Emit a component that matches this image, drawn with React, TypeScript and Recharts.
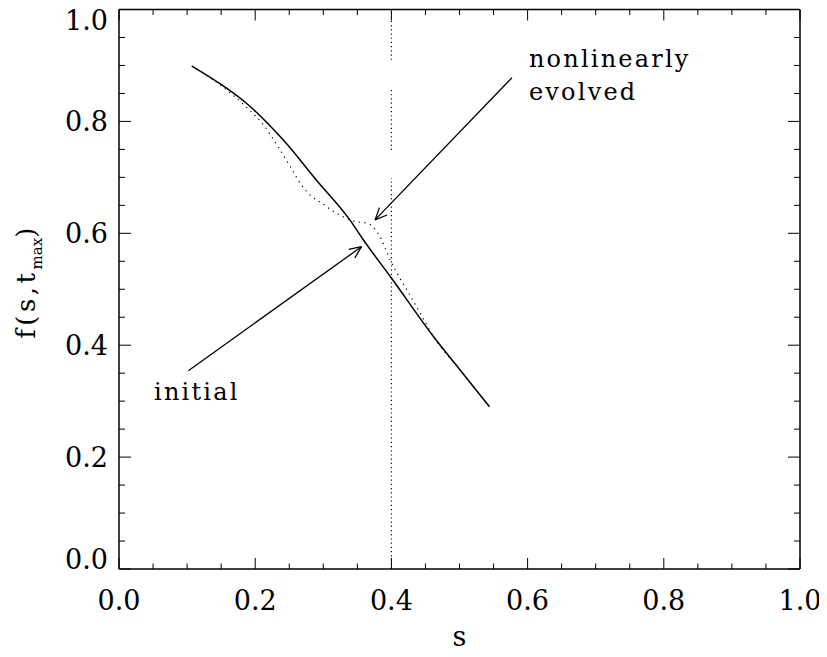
import React from "react";
import { LineChart, Line, XAxis, YAxis, ReferenceLine, ReferenceDot } from "recharts";

// ---- data ----
const initialS = [0.107, 0.15, 0.1875, 0.241, 0.29, 0.339, 0.359, 0.4, 0.462, 0.5, 0.544];
const initialF = [0.899, 0.866, 0.832, 0.767, 0.695, 0.624, 0.588, 0.52, 0.415, 0.357, 0.29];

const evolvedS = [0.107, 0.15, 0.19, 0.21, 0.235, 0.253, 0.268, 0.283, 0.3, 0.315, 0.33, 0.347, 0.364, 0.378, 0.385, 0.392, 0.4, 0.41, 0.425, 0.44, 0.462, 0.5, 0.544];
const evolvedF = [0.899, 0.864, 0.822, 0.797, 0.752, 0.716, 0.686, 0.666, 0.652, 0.639, 0.629, 0.621, 0.618, 0.604, 0.59, 0.57, 0.548, 0.525, 0.494, 0.462, 0.415, 0.357, 0.29];

const axisTicks = [0, 0.05, 0.1, 0.15, 0.2, 0.25, 0.3, 0.35, 0.4, 0.45, 0.5, 0.55, 0.6, 0.65, 0.7, 0.75, 0.8, 0.85, 0.9, 0.95, 1.0];

const markerS = 0.4;
const markerSegments = [[0, 0.699], [0.749, 0.856], [0.91, 1.0]];

const arrowEvolved = [{ x: 0.577, y: 0.878 }, { x: 0.376, y: 0.624 }];
const arrowInitial = [{ x: 0.1018, y: 0.3545 }, { x: 0.356, y: 0.576 }];

const labelEvolved1 = { s: 0.602, f: 0.897, text: "nonlinearly" };
const labelEvolved2 = { s: 0.602, f: 0.838, text: "evolved" };
const labelInitial = { s: 0.0514, f: 0.302, text: "initial" };

const initialData = initialS.map((s, i) => ({ s, f: initialF[i] }));
const evolvedData = evolvedS.map((s, i) => ({ s, f: evolvedF[i] }));

const FONT = "'DejaVu Serif', serif";
const isMajor = (v: number) => Math.abs(v * 5 - Math.round(v * 5)) < 1e-6;

const BottomTick = (props: any) => {
  const { x, y, payload } = props;
  const major = isMajor(payload.value);
  return (
    <g>
      <line x1={x} x2={x} y1={y} y2={y - (major ? 11 : 5.5)} stroke="#000" strokeWidth={1} />
      {major && (
        <text x={x} y={y + 41} textAnchor="middle" fontFamily={FONT} fontSize={27} fill="#000">
          {payload.value.toFixed(1)}
        </text>
      )}
    </g>
  );
};

const TopTick = (props: any) => {
  const { x, y, payload } = props;
  const major = isMajor(payload.value);
  return <line x1={x} x2={x} y1={y} y2={y + (major ? 11 : 5.5)} stroke="#000" strokeWidth={1} />;
};

const LeftTick = (props: any) => {
  const { x, y, payload } = props;
  const v = payload.value;
  const major = isMajor(v);
  // end labels are nudged inside the frame, as in the reference
  const shift = v >= 0.999 ? 10.5 : v <= 0.001 ? -10 : 0;
  return (
    <g>
      <line x1={x} x2={x + (major ? 12 : 6)} y1={y} y2={y} stroke="#000" strokeWidth={1} />
      {major && (
        <text x={x - 11} y={y + 10 + shift} textAnchor="end" fontFamily={FONT} fontSize={27} fill="#000">
          {v.toFixed(1)}
        </text>
      )}
    </g>
  );
};

const RightTick = (props: any) => {
  const { x, y, payload } = props;
  const major = isMajor(payload.value);
  return <line x1={x} x2={x - (major ? 12 : 6)} y1={y} y2={y} stroke="#000" strokeWidth={1} />;
};

const ArrowShape = (props: any) => {
  const { x1, y1, x2, y2 } = props;
  const ang = Math.atan2(y2 - y1, x2 - x1);
  const len = 13;
  const spread = 0.42;
  const ax = x2 - len * Math.cos(ang - spread);
  const ay = y2 - len * Math.sin(ang - spread);
  const bx = x2 - len * Math.cos(ang + spread);
  const by = y2 - len * Math.sin(ang + spread);
  return (
    <g stroke="#000" strokeWidth={1.3} fill="none">
      <line x1={x1} y1={y1} x2={x2} y2={y2} />
      <line x1={x2} y1={y2} x2={ax} y2={ay} />
      <line x1={x2} y1={y2} x2={bx} y2={by} />
    </g>
  );
};

const makeTextShape = (text: string) => (props: any) => (
  <text x={props.cx} y={props.cy} fontFamily={FONT} fontSize={24} letterSpacing={2.2} fill="#000">
    {text}
  </text>
);

const YLabel = (props: any) => {
  const vb = props.viewBox || { x: 0, y: 0, height: 560 };
  const x = vb.x + 27;
  const y = vb.y + vb.height / 2 - 6;
  return (
    <text x={x} y={y} transform={`rotate(-90, ${x}, ${y})`} textAnchor="middle" fontFamily={FONT} fontSize={26} fill="#000">
      <tspan letterSpacing={3.5}>f(s,t</tspan>
      <tspan fontSize={15} dy={7}>max</tspan>
      <tspan dy={-7}>)</tspan>
    </text>
  );
};

const XLabel = (props: any) => {
  const vb = props.viewBox || { x: 0, y: 0, width: 680 };
  return (
    <text x={vb.x + vb.width / 2} y={vb.y + 77} textAnchor="middle" fontFamily={FONT} fontSize={27} fill="#000">
      s
    </text>
  );
};

export default function App() {
  return (
    <LineChart width={819} height={649} margin={{ top: 0.5, right: 26, bottom: 0, left: 0 }}>
      <XAxis
        xAxisId={0}
        dataKey="s"
        type="number"
        domain={[0, 1]}
        ticks={axisTicks}
        interval={0}
        height={88}
        orientation="bottom"
        tickLine={false}
        tickSize={0}
        tickMargin={0}
        tick={<BottomTick />}
        axisLine={{ stroke: "#000", strokeWidth: 1.5 }}
        label={{ content: <XLabel /> }}
        allowDataOverflow
      />
      <XAxis
        xAxisId="top"
        dataKey="s"
        type="number"
        domain={[0, 1]}
        ticks={axisTicks}
        interval={0}
        height={1}
        orientation="top"
        tickLine={false}
        tickSize={0}
        tickMargin={0}
        tick={<TopTick />}
        axisLine={{ stroke: "#000", strokeWidth: 1.5 }}
        allowDataOverflow
      />
      <YAxis
        yAxisId={0}
        type="number"
        domain={[0, 1]}
        ticks={axisTicks}
        interval={0}
        width={111}
        orientation="left"
        tickLine={false}
        tickSize={0}
        tickMargin={0}
        tick={<LeftTick />}
        axisLine={{ stroke: "#000", strokeWidth: 1.5 }}
        label={{ content: <YLabel /> }}
        allowDataOverflow
      />
      <YAxis
        yAxisId="right"
        type="number"
        domain={[0, 1]}
        ticks={axisTicks}
        interval={0}
        width={1}
        orientation="right"
        tickLine={false}
        tickSize={0}
        tickMargin={0}
        tick={<RightTick />}
        axisLine={{ stroke: "#000", strokeWidth: 1.5 }}
        allowDataOverflow
      />
      {markerSegments.map(([a, b], i) => (
        <ReferenceLine
          key={`m${i}`}
          segment={[{ x: markerS, y: a }, { x: markerS, y: b }]}
          stroke="#000"
          strokeWidth={1.1}
          strokeDasharray="1.2 3"
          ifOverflow="visible"
        />
      ))}
      <Line
        data={evolvedData}
        dataKey="f"
        type="monotone"
        stroke="#000"
        strokeWidth={1.2}
        strokeDasharray="1.2 4.5"
        dot={false}
        isAnimationActive={false}
      />
      <Line
        data={initialData}
        dataKey="f"
        type="monotone"
        stroke="#000"
        strokeWidth={1.5}
        dot={false}
        isAnimationActive={false}
      />
      <ReferenceLine segment={arrowEvolved} shape={ArrowShape} ifOverflow="visible" />
      <ReferenceLine segment={arrowInitial} shape={ArrowShape} ifOverflow="visible" />
      <ReferenceDot x={labelEvolved1.s} y={labelEvolved1.f} r={0} shape={makeTextShape(labelEvolved1.text)} ifOverflow="visible" />
      <ReferenceDot x={labelEvolved2.s} y={labelEvolved2.f} r={0} shape={makeTextShape(labelEvolved2.text)} ifOverflow="visible" />
      <ReferenceDot x={labelInitial.s} y={labelInitial.f} r={0} shape={makeTextShape(labelInitial.text)} ifOverflow="visible" />
    </LineChart>
  );
}
